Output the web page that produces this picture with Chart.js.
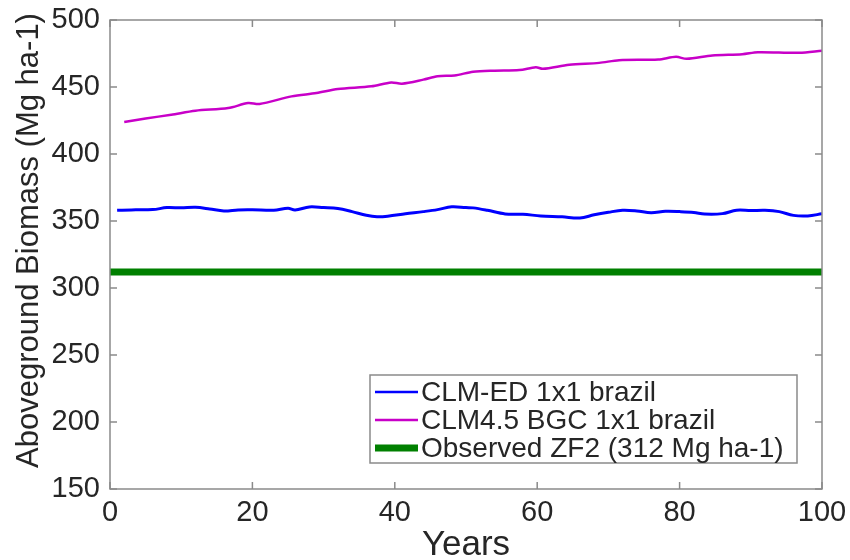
<!DOCTYPE html>
<html>
<head>
<meta charset="utf-8">
<script src="https://cdn.jsdelivr.net/npm/chart.js@4.4.1/dist/chart.umd.min.js"></script>
<style>
  html, body { margin: 0; padding: 0; background: #ffffff; }
  #wrap { width: 850px; height: 560px; position: relative; }
</style>
</head>
<body>
<div id="wrap"><canvas id="c" width="850" height="560"></canvas></div>
<script>
// ---- data ----
const seriesLabels = ["CLM-ED 1x1 brazil", "CLM4.5 BGC 1x1 brazil", "Observed ZF2 (312 Mg ha-1)"];

const edYears  = [1, 3, 6, 8, 10, 12, 14, 16, 18, 20, 23, 25, 26, 28, 30, 32, 34, 36, 37.5, 39, 41.5, 44, 46, 48, 50, 51, 53, 55.5, 58, 60.5, 63.5, 66, 68, 70, 72, 74, 76, 78, 80, 82, 83.5, 86, 88, 90, 92, 94, 96, 98, 100];
const edValues = [358, 358.3, 358.5, 360, 359.8, 360.2, 359, 357.5, 358.3, 358.4, 358, 359.5, 358.2, 360.5, 360, 359.3, 357, 354.3, 353.2, 353.6, 355.4, 357, 358.5, 360.6, 360, 359.8, 358, 355.3, 355, 353.8, 353.1, 352.2, 354.6, 356.5, 358, 357.5, 356.2, 357.2, 357, 356.4, 355.2, 355.5, 358, 357.8, 358, 357, 354.2, 353.8, 355.4];

const bgcYears  = [2, 5, 8.6, 12, 16.6, 19.4, 21, 25.5, 29, 32, 36.7, 39.5, 41, 44, 46, 48.4, 51, 54, 57.5, 59.8, 60.8, 64.5, 68.7, 71.5, 77, 79.5, 81, 84.6, 88.8, 91, 96.8, 100];
const bgcValues = [423.9, 426.5, 429.3, 432.3, 434.3, 438, 437.3, 443, 445.5, 448.5, 450.5, 453.4, 452.5, 455.5, 458, 458.6, 461.4, 462.2, 462.6, 464.8, 463.6, 466.6, 468, 470, 470.5, 472.5, 471, 473.5, 474.5, 476, 475.5, 477];

const obsYears = [0, 100];
const obsValue = 312;

const xTicks = [0, 20, 40, 60, 80, 100];
const yTicks = [150, 200, 250, 300, 350, 400, 450, 500];

const xTitle = "Years";
const yTitle = "Aboveground Biomass (Mg ha-1)";

// ---- helpers ----
const pts = (xs, ys) => xs.map((x, i) => ({ x: x, y: ys[i] }));
const FONT = "'Liberation Sans', Arial, Helvetica, sans-serif";
const TEXT = "#262626";
const FRAME = "#8a8a8a";

// frame + inward ticks
const framePlugin = {
  id: 'frame',
  afterDatasetsDraw(chart) {
    const { ctx, chartArea: a, scales } = chart;
    ctx.save();
    ctx.strokeStyle = FRAME;
    ctx.lineWidth = 1.5;
    ctx.strokeRect(a.left, a.top, a.right - a.left, a.bottom - a.top);
    const L = 7;
    ctx.beginPath();
    xTicks.forEach(v => {
      const px = scales.x.getPixelForValue(v);
      ctx.moveTo(px, a.bottom); ctx.lineTo(px, a.bottom - L);
      ctx.moveTo(px, a.top); ctx.lineTo(px, a.top + L);
    });
    yTicks.forEach(v => {
      const py = scales.y.getPixelForValue(v);
      ctx.moveTo(a.left, py); ctx.lineTo(a.left + L, py);
      ctx.moveTo(a.right, py); ctx.lineTo(a.right - L, py);
    });
    ctx.stroke();
    ctx.restore();
  }
};

// axis titles
const titlePlugin = {
  id: 'axisTitles',
  afterDraw(chart) {
    const { ctx, chartArea: a } = chart;
    ctx.save();
    ctx.fillStyle = TEXT;
    ctx.textAlign = 'center';
    ctx.textBaseline = 'alphabetic';
    ctx.font = "35px " + FONT;
    ctx.fillText(xTitle, (a.left + a.right) / 2, 555);
    ctx.translate(38, (a.top + a.bottom) / 2 - 14);
    ctx.rotate(-Math.PI / 2);
    ctx.font = "31px " + FONT;
    ctx.fillText(yTitle, 0, 0);
    ctx.restore();
  }
};

// boxed legend inside the axes, lower right
const boxLegendPlugin = {
  id: 'boxLegend',
  afterDraw(chart) {
    const { ctx, chartArea: a } = chart;
    const right = a.right - 25, bottom = a.bottom - 26;
    const w = 427, h = 88;
    const left = right - w, top = bottom - h;
    ctx.save();
    ctx.fillStyle = '#ffffff';
    ctx.fillRect(left, top, w, h);
    ctx.strokeStyle = FRAME;
    ctx.lineWidth = 1.5;
    ctx.strokeRect(left, top, w, h);
    ctx.font = "28px " + FONT;
    ctx.textBaseline = 'middle';
    ctx.textAlign = 'left';
    chart.data.datasets.forEach((ds, i) => {
      const cy = top + 17 + i * 28;
      ctx.strokeStyle = ds.borderColor;
      ctx.lineWidth = ds.legendWidth;
      ctx.beginPath();
      ctx.moveTo(left + 5, cy); ctx.lineTo(left + 48, cy);
      ctx.stroke();
      ctx.fillStyle = TEXT;
      ctx.fillText(ds.label, left + 51, cy + 1);
    });
    ctx.restore();
  }
};

new Chart(document.getElementById('c'), {
  type: 'line',
  data: {
    datasets: [
      { label: seriesLabels[0], data: pts(edYears, edValues), borderColor: '#0000ff', borderWidth: 3, legendWidth: 2.5, tension: 0.35 },
      { label: seriesLabels[1], data: pts(bgcYears, bgcValues), borderColor: '#c800c8', borderWidth: 2.5, legendWidth: 2.5, tension: 0.3 },
      { label: seriesLabels[2], data: pts(obsYears, [obsValue, obsValue]), borderColor: '#008000', borderWidth: 7, legendWidth: 7, tension: 0 }
    ]
  },
  options: {
    responsive: false,
    animation: false,
    devicePixelRatio: 1,
    layout: { padding: { top: 20, right: 28, left: 0, bottom: 0 } },
    elements: { point: { radius: 0 }, line: { borderCapStyle: 'butt' } },
    plugins: {
      legend: { display: false },
      tooltip: { enabled: false }
    },
    scales: {
      x: {
        type: 'linear', min: 0, max: 100,
        afterBuildTicks: s => { s.ticks = xTicks.map(v => ({ value: v })); },
        afterFit: s => { s.height = 71; s.paddingLeft = 0; s.paddingRight = 0; },
        grid: { display: false, drawTicks: false },
        border: { display: false },
        ticks: { color: TEXT, font: { family: FONT, size: 29 }, padding: 7, maxRotation: 0 },
        title: { display: false }
      },
      y: {
        type: 'linear', min: 150, max: 500,
        afterBuildTicks: s => { s.ticks = yTicks.map(v => ({ value: v })); },
        afterFit: s => { s.width = 110; s.paddingTop = 0; s.paddingBottom = 0; },
        grid: { display: false, drawTicks: false },
        border: { display: false },
        ticks: { color: TEXT, font: { family: FONT, size: 29 }, padding: 10 },
        title: { display: false }
      }
    }
  },
  plugins: [framePlugin, titlePlugin, boxLegendPlugin]
});
</script>
</body>
</html>
